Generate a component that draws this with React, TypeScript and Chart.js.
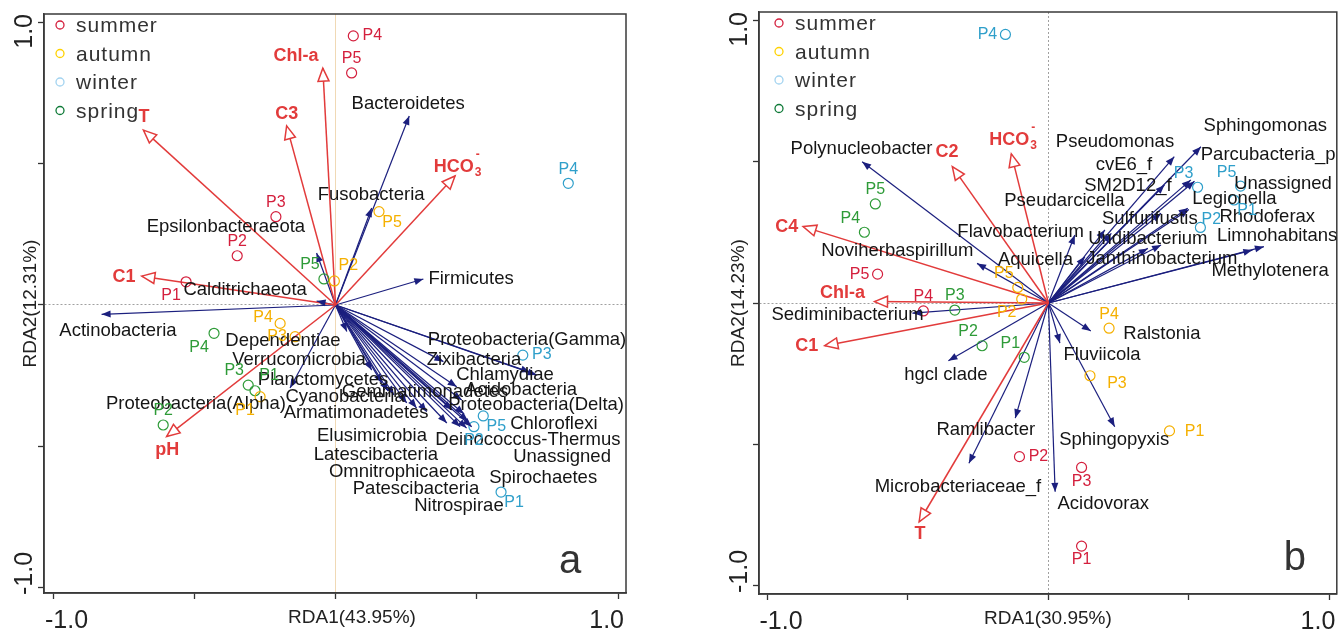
import React, { useEffect, useRef } from 'react';
import { Chart, registerables } from 'chart.js';
Chart.register(...registerables);

type Pt = [number, number];

const FONT = '"Liberation Sans", Arial, Helvetica, sans-serif';
const SEASONS = ['summer', 'autumn', 'winter', 'spring'];
const SAMPLE_IDS = ['P1', 'P2', 'P3', 'P4', 'P5'];
const TICK_VALUES = [-1, -0.5, 0, 0.5, 1];
const POINT_COLORS = ['#d41f3d', '#f5b000', '#2f9fca', '#2e9b38'];
const LEGEND_COLORS = ['#d41f3d', '#ffd200', '#a3d3f0', '#0f7a38'];
const ENV_COLOR = '#e23b3b';
const SP_COLOR = '#1b1f7e';

// ---------------- Panel a ----------------
const aSummer: Pt[] = [[-0.529, 0.082], [-0.348, 0.174], [-0.211, 0.312], [0.063, 0.951], [0.057, 0.820]];
const aAutumn: Pt[] = [[-0.267, -0.324], [-0.004, 0.085], [-0.143, -0.112], [-0.196, -0.065], [0.154, 0.330]];
const aWinter: Pt[] = [[0.586, -0.661], [0.490, -0.430], [0.663, -0.177], [0.824, 0.430], [0.523, -0.392]];
const aSpring: Pt[] = [[-0.285, -0.303], [-0.610, -0.424], [-0.309, -0.283], [-0.430, -0.100], [-0.041, 0.092]];
const aSummerPlace = ['bl', 't', 't', 'r', 't'];
const aAutumnPlace = ['bl', 'tr2', 'l', 'lt', 'br'];
const aWinterPlace = ['br', 'b', 'r', 't', 'br'];
const aSpringPlace = ['tr2', 't', 'tl', 'bl', 'tl'];

const aEnvNames = ['T', 'C3', 'Chl-a', 'HCO3-', 'C1', 'pH'];
const aEnvX = [-0.680, -0.173, -0.045, 0.423, -0.686, -0.598];
const aEnvY = [0.618, 0.633, 0.837, 0.456, 0.102, -0.465];
const aEnvLabelX = [-0.678, -0.173, -0.140, 0.434, -0.749, -0.596];
const aEnvLabelY = [0.664, 0.675, 0.880, 0.488, 0.099, -0.512];

const aSpNames = ['Bacteroidetes', 'Fusobacteria', 'Firmicutes', 'Epsilonbacteraeota', 'Calditrichaeota', 'Actinobacteria',
  'Proteobacteria(Alpha)', 'Dependentiae', 'Verrucomicrobia', 'Planctomycetes', 'Cyanobacteria', 'Gemmatimonadetes',
  'Armatimonadetes', 'Elusimicrobia', 'Latescibacteria', 'Omnitrophicaeota', 'Patescibacteria', 'Nitrospirae',
  'Deinococcus-Thermus', 'Chloroflexi', 'Unassigned', 'Spirochaetes', 'Zixibacteria', 'Acidobacteria',
  'Proteobacteria(Delta)', 'Chlamydiae', 'Proteobacteria(Gamma)'];
const aSpX = [0.261, 0.128, 0.311, -0.067, -0.067, -0.828, -0.161, 0.040, 0.128, 0.164, 0.186, 0.207, 0.252, 0.287,
  0.323, 0.394, 0.441, 0.464, 0.469, 0.482, 0.455, 0.412, 0.382, 0.429, 0.447, 0.712, 0.688];
const aSpY = [0.668, 0.343, 0.092, 0.184, 0.014, -0.033, -0.293, -0.094, -0.230, -0.276, -0.304, -0.318, -0.346, -0.364,
  -0.377, -0.417, -0.430, -0.435, -0.410, -0.430, -0.385, -0.371, -0.200, -0.289, -0.336, -0.247, -0.237];
const aSpLabelX = [0.257, 0.126, 0.480, -0.388, -0.320, -0.770, -0.494, -0.186, -0.129, -0.044, 0.034, 0.317, 0.073,
  0.129, 0.143, 0.235, 0.285, 0.437, 0.681, 0.773, 0.802, 0.735, 0.490, 0.657, 0.710, 0.600, 0.678];
const aSpLabelY = [0.710, 0.389, 0.092, 0.276, 0.053, -0.092, -0.350, -0.127, -0.194, -0.265, -0.325, -0.307, -0.382,
  -0.463, -0.530, -0.590, -0.650, -0.710, -0.477, -0.420, -0.537, -0.611, -0.194, -0.300, -0.353, -0.247, -0.124];

// ---------------- Panel b ----------------
const bSummer: Pt[] = [[0.118, -0.859], [-0.103, -0.543], [0.118, -0.581], [-0.445, -0.028], [-0.608, 0.102]];
const bAutumn: Pt[] = [[0.431, -0.452], [-0.095, 0.014], [0.148, -0.257], [0.216, -0.089], [-0.109, 0.055]];
const bWinter: Pt[] = [[0.661, 0.364], [0.541, 0.267], [0.531, 0.409], [-0.153, 0.949], [0.684, 0.413]];
const bSpring: Pt[] = [[-0.086, -0.192], [-0.236, -0.151], [-0.333, -0.025], [-0.655, 0.250], [-0.616, 0.350]];
const bSummerPlace = ['b', 'r', 'b', 't', 'l'];
const bAutumnPlace = ['rr', 'bl', 'rb', 't', 'tl'];
const bWinterPlace = ['br', 'tr', 'tl', 'l', 'tl'];
const bSpringPlace = ['tl', 'tl', 't', 'tl', 't'];

const bEnvNames = ['C2', 'HCO3-', 'C4', 'Chl-a', 'C1', 'T'];
const bEnvX = [-0.342, -0.132, -0.873, -0.619, -0.796, -0.460];
const bEnvY = [0.482, 0.527, 0.270, 0.005, -0.151, -0.773];
const bEnvLabelX = [-0.361, -0.124, -0.931, -0.733, -0.860, -0.457];
const bEnvLabelY = [0.534, 0.576, 0.269, 0.035, -0.152, -0.816];

const bSpNames = ['Polynucleobacter', 'Noviherbaspirillum', 'Sediminibacterium', 'hgcl clade', 'Ramlibacter',
  'Microbacteriaceae_f', 'Acidovorax', 'Fluviicola', 'Ralstonia', 'Sphingopyxis', 'Aquicella', 'Flavobacterium',
  'Pseudarcicella', 'Pseudomonas', 'Sphingomonas', 'Parcubacteria_p', 'cvE6_f', 'SM2D12_f', 'Legionella',
  'Sulfurifustis', 'Undibacterium', 'Janthinobacterium', 'Limnohabitans', 'Methylotenera', 'Unassigned', 'Rhodoferax'];
const bSpX = [-0.663, -0.254, -0.484, -0.356, -0.118, -0.283, 0.024, 0.041, 0.151, 0.236, 0.130, 0.094, 0.201, 0.448,
  0.543, 0.507, 0.413, 0.401, 0.496, 0.224, 0.354, 0.401, 0.767, 0.726, 0.520, 0.500];
const bSpY = [0.499, 0.140, -0.036, -0.204, -0.407, -0.566, -0.667, -0.142, -0.099, -0.437, 0.164, 0.240, 0.258, 0.517,
  0.552, 0.435, 0.417, 0.317, 0.335, 0.246, 0.193, 0.205, 0.199, 0.187, 0.430, 0.330];
const bSpLabelX = [-0.665, -0.538, -0.715, -0.365, -0.223, -0.322, 0.195, 0.191, 0.404, 0.234, -0.046, -0.099, 0.057,
  0.237, 0.772, 0.782, 0.269, 0.283, 0.662, 0.361, 0.354, 0.404, 0.814, 0.789, 0.835, 0.779];
const bSpLabelY = [0.544, 0.184, -0.042, -0.254, -0.449, -0.650, -0.710, -0.184, -0.110, -0.484, 0.152, 0.251, 0.360,
  0.569, 0.625, 0.523, 0.488, 0.413, 0.367, 0.297, 0.226, 0.155, 0.237, 0.113, 0.420, 0.304];

const OFFSETS: Record<string, [number, number]> = {
  r: [19, 0], l: [-18, 0], t: [0, -14], b: [0, 14], tl: [-14, -14], tr: [11, -8], tr2: [14, -15],
  bl: [-15, 14], br: [13, 11], lt: [-17, -6], rr: [25, 1], rb: [27, 8],
};

interface PanelDef {
  letter: string; xTitle: string; yTitle: string;
  xMin: number; xMax: number; yMin: number; yMax: number;
  samples: Pt[][]; places: string[][];
  envNames: string[]; envX: number[]; envY: number[]; envLX: number[]; envLY: number[];
  spNames: string[]; spX: number[]; spY: number[]; spLX: number[]; spLY: number[];
  xZeroColor: string; xZeroDash: number[]; yZeroColor: string; yZeroDash: number[];
  padding: { left: number; right: number; top: number; bottom: number };
  xTitleShift: number; yTitleGap: number; legendDx: number; letterDx: number; letterDy: number;
}

const panelA: PanelDef = {
  letter: 'a', xTitle: 'RDA1(43.95%)', yTitle: 'RDA2(12.31%)',
  xMin: -1.0319, xMax: 1.0283, yMin: -1.0177, yMax: 1.0283,
  samples: [aSummer, aAutumn, aWinter, aSpring],
  places: [aSummerPlace, aAutumnPlace, aWinterPlace, aSpringPlace],
  envNames: aEnvNames, envX: aEnvX, envY: aEnvY, envLX: aEnvLabelX, envLY: aEnvLabelY,
  spNames: aSpNames, spX: aSpX, spY: aSpY, spLX: aSpLabelX, spLY: aSpLabelY,
  xZeroColor: '#f0d9b5', xZeroDash: [], yZeroColor: '#a0a0a0', yZeroDash: [2, 2],
  padding: { left: 38, right: 14, top: 14, bottom: 31 },
  xTitleShift: 17, yTitleGap: 8, legendDx: 16, letterDx: 56, letterDy: 20,
};

const panelB: PanelDef = {
  letter: 'b', xTitle: 'RDA1(30.95%)', yTitle: 'RDA2(14.23%)',
  xMin: -1.0301, xMax: 1.0265, yMin: -1.0283, yMax: 1.0283,
  samples: [bSummer, bAutumn, bWinter, bSpring],
  places: [bSummerPlace, bAutumnPlace, bWinterPlace, bSpringPlace],
  envNames: bEnvNames, envX: bEnvX, envY: bEnvY, envLX: bEnvLabelX, envLY: bEnvLabelY,
  spNames: bSpNames, spX: bSpX, spY: bSpY, spLX: bSpLabelX, spLY: bSpLabelY,
  xZeroColor: '#a0a0a0', xZeroDash: [2, 2], yZeroColor: '#a0a0a0', yZeroDash: [2, 2],
  padding: { left: 37, right: 3, top: 12, bottom: 30 },
  xTitleShift: 0, yTitleGap: 15, legendDx: 20, letterDx: 42, letterDy: 24,
};

function drawHead(ctx: CanvasRenderingContext2D, ox: number, oy: number, tx: number, ty: number,
  len: number, half: number, hollow: boolean, color: string) {
  const ang = Math.atan2(ty - oy, tx - ox);
  const bx = tx - len * Math.cos(ang), by = ty - len * Math.sin(ang);
  const nx = -Math.sin(ang) * half, ny = Math.cos(ang) * half;
  ctx.beginPath();
  ctx.moveTo(tx, ty);
  ctx.lineTo(bx + nx, by + ny);
  ctx.lineTo(bx - nx, by - ny);
  ctx.closePath();
  if (hollow) {
    ctx.fillStyle = '#ffffff';
    ctx.fill();
    ctx.strokeStyle = color;
    ctx.lineWidth = 1.5;
    ctx.stroke();
  } else {
    ctx.fillStyle = color;
    ctx.fill();
  }
}

function drawHCO3(ctx: CanvasRenderingContext2D, cx: number, cy: number) {
  ctx.font = `bold 18px ${FONT}`;
  const w1 = ctx.measureText('HCO').width;
  ctx.font = `bold 12px ${FONT}`;
  const w2 = ctx.measureText('3').width;
  const x = cx - (w1 + w2 + 2) / 2;
  ctx.textAlign = 'left';
  ctx.textBaseline = 'middle';
  ctx.font = `bold 18px ${FONT}`;
  ctx.fillText('HCO', x, cy);
  ctx.font = `bold 12px ${FONT}`;
  ctx.fillText('3', x + w1 + 1, cy + 6);
  ctx.fillText('-', x + w1 + 2, cy - 12);
}

function makePlugin(def: PanelDef) {
  return {
    id: 'rdaDecor' + def.letter,
    afterDraw(chart: any) {
      const ctx: CanvasRenderingContext2D = chart.ctx;
      const xs = chart.scales.x, ys = chart.scales.y, a = chart.chartArea;
      const X = (v: number) => xs.getPixelForValue(v);
      const Y = (v: number) => ys.getPixelForValue(v);
      const ox = X(0), oy = Y(0);
      ctx.save();

      // frame
      ctx.strokeStyle = '#3a3a3a';
      ctx.lineWidth = 1.5;
      ctx.strokeRect(a.left, a.top, a.right - a.left, a.bottom - a.top);

      // arrow heads
      def.spNames.forEach((_, i) => drawHead(ctx, ox, oy, X(def.spX[i]), Y(def.spY[i]), 9, 3.5, false, SP_COLOR));
      def.envNames.forEach((_, i) => drawHead(ctx, ox, oy, X(def.envX[i]), Y(def.envY[i]), 13, 5.5, true, ENV_COLOR));

      // species labels
      ctx.font = `18.5px ${FONT}`;
      ctx.fillStyle = '#151515';
      ctx.textAlign = 'center';
      ctx.textBaseline = 'middle';
      def.spNames.forEach((n, i) => ctx.fillText(n, X(def.spLX[i]), Y(def.spLY[i])));

      // environmental labels
      ctx.fillStyle = ENV_COLOR;
      def.envNames.forEach((n, i) => {
        const px = X(def.envLX[i]), py = Y(def.envLY[i]);
        if (n === 'HCO3-') {
          drawHCO3(ctx, px, py);
        } else {
          ctx.font = `bold 18px ${FONT}`;
          ctx.textAlign = 'center';
          ctx.textBaseline = 'middle';
          ctx.fillText(n, px, py);
        }
      });

      // sample labels
      ctx.font = `16px ${FONT}`;
      ctx.textAlign = 'center';
      ctx.textBaseline = 'middle';
      def.samples.forEach((pts, s) => {
        ctx.fillStyle = POINT_COLORS[s];
        pts.forEach((p, i) => {
          const off = OFFSETS[def.places[s][i]] || [0, -14];
          ctx.fillText(SAMPLE_IDS[i], X(p[0]) + off[0], Y(p[1]) + off[1]);
        });
      });

      // legend
      const lx = a.left + def.legendDx, ly0 = a.top + 11, step = 28.5;
      SEASONS.forEach((s, i) => {
        const cy = ly0 + i * step;
        ctx.beginPath();
        ctx.arc(lx, cy, 4, 0, Math.PI * 2);
        ctx.strokeStyle = LEGEND_COLORS[i];
        ctx.lineWidth = 1.3;
        ctx.stroke();
        ctx.fillStyle = '#333333';
        ctx.font = `21px ${FONT}`;
        (ctx as any).letterSpacing = '1px';
        ctx.textAlign = 'left';
        ctx.textBaseline = 'alphabetic';
        ctx.fillText(s, lx + 16, cy + 7);
        (ctx as any).letterSpacing = '0px';
      });

      // tick labels
      ctx.fillStyle = '#222222';
      ctx.font = `25px ${FONT}`;
      ctx.textBaseline = 'alphabetic';
      ctx.textAlign = 'left';
      ctx.fillText('-1.0', X(-1) - 8, a.bottom + 34.5);
      ctx.textAlign = 'right';
      ctx.fillText('1.0', X(1) + 6, a.bottom + 34.5);

      ctx.save();
      ctx.translate(a.left - 12, Y(-1) + 7);
      ctx.rotate(-Math.PI / 2);
      ctx.textAlign = 'left';
      ctx.fillText('-1.0', 0, 0);
      ctx.restore();
      ctx.save();
      ctx.translate(a.left - 12, Y(1) - 8);
      ctx.rotate(-Math.PI / 2);
      ctx.textAlign = 'right';
      ctx.fillText('1.0', 0, 0);
      ctx.restore();

      // axis titles
      ctx.font = `19px ${FONT}`;
      ctx.textAlign = 'center';
      ctx.fillText(def.xTitle, (a.left + a.right) / 2 + def.xTitleShift, a.bottom + 30);
      ctx.save();
      ctx.translate(a.left - def.yTitleGap, (a.top + a.bottom) / 2);
      ctx.rotate(-Math.PI / 2);
      ctx.fillText(def.yTitle, 0, 0);
      ctx.restore();

      // panel letter
      ctx.fillStyle = '#333333';
      ctx.font = `40px ${FONT}`;
      ctx.textAlign = 'center';
      ctx.fillText(def.letter, a.right - def.letterDx, a.bottom - def.letterDy);

      ctx.restore();
    },
  };
}

function makeDatasets(def: PanelDef) {
  const ds: any[] = [];
  SEASONS.forEach((s, i) => {
    ds.push({
      label: s,
      data: def.samples[i].map(([x, y]) => ({ x, y })),
      showLine: false,
      pointStyle: 'circle',
      pointRadius: 5,
      pointBorderWidth: 1.2,
      pointBorderColor: POINT_COLORS[i],
      pointBackgroundColor: 'rgba(255,255,255,0)',
      borderColor: POINT_COLORS[i],
      backgroundColor: 'rgba(255,255,255,0)',
    });
  });
  def.envNames.forEach((n, i) => {
    ds.push({
      label: n,
      data: [{ x: 0, y: 0 }, { x: def.envX[i], y: def.envY[i] }],
      showLine: true,
      borderColor: ENV_COLOR,
      borderWidth: 1.5,
      pointRadius: 0,
      fill: false,
    });
  });
  def.spNames.forEach((n, i) => {
    ds.push({
      label: n,
      data: [{ x: 0, y: 0 }, { x: def.spX[i], y: def.spY[i] }],
      showLine: true,
      borderColor: SP_COLOR,
      borderWidth: 1.2,
      pointRadius: 0,
      fill: false,
    });
  });
  return ds;
}

function axisOpts(min: number, max: number, zeroColor: string, zeroDash: number[]) {
  return {
    type: 'linear',
    min,
    max,
    afterBuildTicks: (scale: any) => {
      scale.ticks = TICK_VALUES.map((v) => ({ value: v }));
    },
    ticks: { display: false },
    grid: {
      display: true,
      drawOnChartArea: true,
      drawTicks: true,
      tickLength: 6,
      tickWidth: 1.3,
      tickColor: '#333333',
      lineWidth: 1,
      color: (c: any) => (c.tick && c.tick.value === 0 ? zeroColor : 'rgba(0,0,0,0)'),
    },
    border: { display: true, color: '#3a3a3a', width: 1.5, dash: zeroDash },
    title: { display: false },
  };
}

function Panel({ def, left, width }: { def: PanelDef; left: number; width: number }) {
  const ref = useRef<HTMLCanvasElement>(null);
  useEffect(() => {
    const chart = new Chart(ref.current as HTMLCanvasElement, {
      type: 'scatter',
      data: { datasets: makeDatasets(def) },
      options: {
        responsive: false,
        animation: false,
        devicePixelRatio: 1,
        events: [],
        layout: { padding: def.padding },
        plugins: { legend: { display: false }, tooltip: { enabled: false }, title: { display: false } },
        scales: {
          x: axisOpts(def.xMin, def.xMax, def.xZeroColor, def.xZeroDash),
          y: axisOpts(def.yMin, def.yMax, def.yZeroColor, def.yZeroDash),
        },
      } as any,
      plugins: [makePlugin(def)],
    });
    return () => chart.destroy();
  }, []);
  return (
    <canvas
      ref={ref}
      width={width}
      height={630}
      style={{ position: 'absolute', left, top: 0, width, height: 630 }}
    />
  );
}

export default function App() {
  return (
    <div style={{ position: 'fixed', left: 0, top: 0, width: 1343, height: 630, background: '#ffffff', overflow: 'hidden' }}>
      <Panel def={panelA} left={0} width={640} />
      <Panel def={panelB} left={716} width={627} />
    </div>
  );
}
